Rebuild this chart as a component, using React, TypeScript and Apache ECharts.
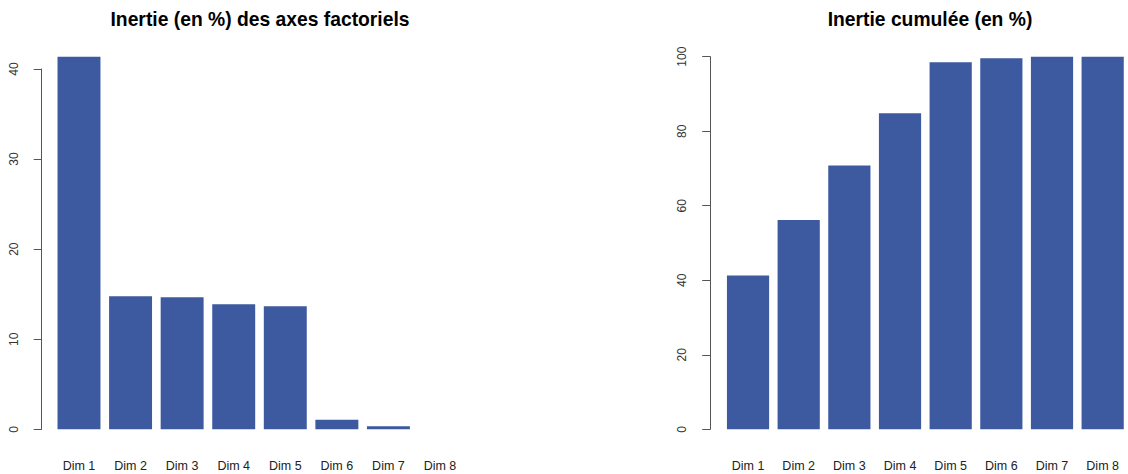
import React, { useEffect, useRef } from "react";
import * as echarts from "echarts";

const categories = ["Dim 1", "Dim 2", "Dim 3", "Dim 4", "Dim 5", "Dim 6", "Dim 7", "Dim 8"];
const inertia = [41.37, 14.78, 14.67, 13.89, 13.67, 1.07, 0.35, 0];
const cumulative = [41.3, 56.2, 70.8, 84.8, 98.5, 99.6, 100, 100];
const leftTicks = { min: 0, max: 40, interval: 10 };
const rightTicks = { min: 0, max: 100, interval: 20 };
const leftTitle = "Inertie (en %) des axes factoriels";
const rightTitle = "Inertie cumulée (en %)";

const BAR = "#3D5AA1";
const FONT = "Liberation Sans, Arial, sans-serif";

export default function App() {
  const ref = useRef<HTMLDivElement>(null);
  useEffect(() => {
    if (!ref.current) return;
    const chart = echarts.init(ref.current, null, { renderer: "svg" });
    const yAxisCommon = (t: any, offset: number) => ({
      type: "value",
      min: t.min,
      max: t.max,
      interval: t.interval,
      offset,
      splitLine: { show: false },
      axisLine: { show: true, lineStyle: { color: "#555", width: 1 } },
      axisTick: { show: true, length: 8, lineStyle: { color: "#555", width: 1 } },
      axisLabel: {
        rotate: 90,
        margin: 22,
        color: "#333",
        fontSize: 12,
        fontFamily: FONT,
      },
    });
    const xAxisCommon = (gridIndex: number) => ({
      type: "category",
      gridIndex,
      data: categories,
      boundaryGap: true,
      axisLine: { show: false },
      axisTick: { show: false },
      axisLabel: {
        color: "#222",
        fontSize: 12.5,
        fontFamily: FONT,
        margin: 30,
        interval: 0,
      },
    });
    const titleStyle = { fontSize: 19.3, fontWeight: "bold", color: "#000", fontFamily: FONT };
    chart.setOption({
      animation: false,
      backgroundColor: "#fff",
      title: [
        { text: leftTitle, left: 255, top: 5, textAlign: "center", textStyle: titleStyle },
        { text: rightTitle, left: 925, top: 5, textAlign: "center", textStyle: titleStyle },
      ],
      grid: [
        { left: 53.2, top: 69, width: 412.6, height: 360.3 },
        { left: 722.7, top: 56.7, width: 412.6, height: 372.6 },
      ],
      xAxis: [xAxisCommon(0), xAxisCommon(1)],
      yAxis: [
        { ...yAxisCommon(leftTicks, 11.5), gridIndex: 0 },
        { ...yAxisCommon(rightTicks, 12.5), gridIndex: 1 },
      ],
      series: [
        {
          type: "bar",
          xAxisIndex: 0,
          yAxisIndex: 0,
          data: inertia,
          clip: false,
          barCategoryGap: "16.7%",
          itemStyle: { color: BAR },
        },
        {
          type: "bar",
          xAxisIndex: 1,
          yAxisIndex: 1,
          data: cumulative,
          clip: false,
          barCategoryGap: "16.7%",
          itemStyle: { color: BAR },
        },
      ],
    });
    return () => chart.dispose();
  }, []);
  return (
    <div
      ref={ref}
      style={{ position: "fixed", left: 0, top: 0, width: 1128, height: 474, background: "#fff" }}
    />
  );
}
